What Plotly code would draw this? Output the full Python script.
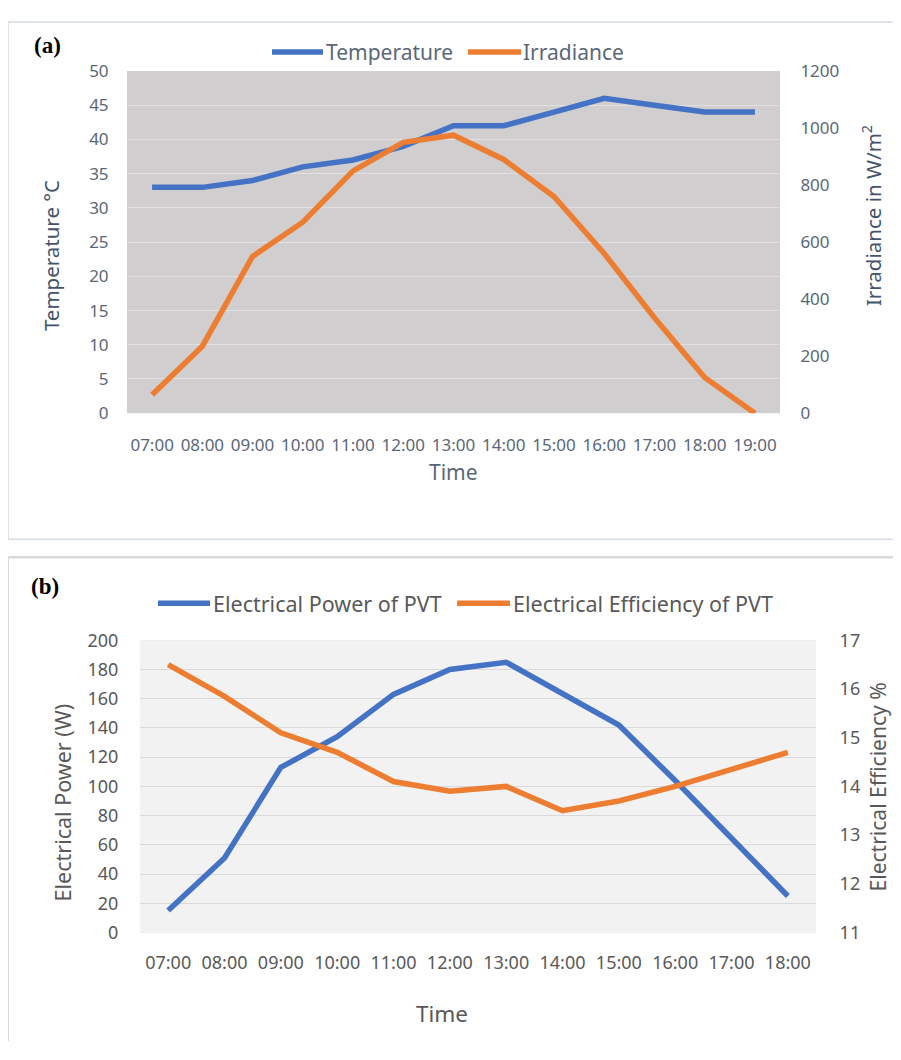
import plotly.graph_objects as go

# ---------------- data ----------------
times_a = ["07:00", "08:00", "09:00", "10:00", "11:00", "12:00", "13:00",
           "14:00", "15:00", "16:00", "17:00", "18:00", "19:00"]
temperature = [33, 33, 34, 36, 37, 39, 42, 42, 44, 46, 45, 44, 44]
irradiance = [65, 235, 550, 670, 850, 950, 975, 890, 760, 560, 335, 125, 0]

times_b = ["07:00", "08:00", "09:00", "10:00", "11:00", "12:00", "13:00",
           "14:00", "15:00", "16:00", "17:00", "18:00"]
power = [15, 51, 113, 134, 163, 180, 185, 164, 142, 104, 64, 25]
efficiency = [16.5, 15.85, 15.1, 14.7, 14.1, 13.9, 14.0, 13.5, 13.7, 14.0, 14.35, 14.7]

series_names_a = ["Temperature", "Irradiance"]
series_names_b = ["Electrical Power of PVT", "Electrical Efficiency of PVT"]

# ---------------- geometry (reference pixels -> paper) ----------------
OFFX, OFFY, SY = 8, 21, 0.9765
W, H = 885, 1044


def xf(px):
    return (px - OFFX) / W


def yf(py):
    return 1 - ((py - OFFY) / SY) / H


BLUE = "#4472C4"
ORANGE = "#ED7D31"
FONT = "Noto Sans, Open Sans, sans-serif"
GREY = "#595959"
SLATE = "#44546A"
SLATE_T = "#5A6779"
LW = 5.5

fig = go.Figure()

fig.add_trace(go.Scatter(x=times_a, y=temperature, name=series_names_a[0],
                         mode="lines", line=dict(color=BLUE, width=LW),
                         xaxis="x", yaxis="y"))
fig.add_trace(go.Scatter(x=times_a, y=irradiance, name=series_names_a[1],
                         mode="lines", line=dict(color=ORANGE, width=LW),
                         xaxis="x", yaxis="y2"))
fig.add_trace(go.Scatter(x=times_b, y=power, name=series_names_b[0],
                         mode="lines", line=dict(color=BLUE, width=LW),
                         xaxis="x2", yaxis="y3"))
fig.add_trace(go.Scatter(x=times_b, y=efficiency, name=series_names_b[1],
                         mode="lines", line=dict(color=ORANGE, width=LW),
                         xaxis="x2", yaxis="y4"))

tickfont_a = dict(family=FONT, size=17, color=SLATE_T)
tickfont_b = dict(family=FONT, size=18, color=GREY)

hidden_tick = dict(ticks="outside", tickcolor="rgba(0,0,0,0)")

fig.update_layout(
    width=W, height=H, autosize=False,
    margin=dict(l=0, r=0, t=0, b=0),
    paper_bgcolor="white",
    showlegend=False,
    # ---- panel (a) ----
    xaxis=dict(domain=[xf(127), xf(780)], anchor="y", type="category",
               range=[-0.5, 12.5], showgrid=False, zeroline=False,
               showline=False, tickangle=0, tickfont=tickfont_a,
               ticklen=16, **hidden_tick),
    yaxis=dict(domain=[yf(413), yf(71)], anchor="x", range=[0, 50],
               dtick=5, showgrid=True, gridcolor="#E2E0E0", gridwidth=1.3,
               zeroline=False, showline=False, tickfont=tickfont_a,
               ticklen=14, **hidden_tick),
    yaxis2=dict(overlaying="y", side="right", anchor="x", range=[0, 1200],
                dtick=200, showgrid=False, zeroline=False, showline=False,
                tickfont=tickfont_a, ticklen=16, **hidden_tick),
    plot_bgcolor="#D0CECE",
    # ---- panel (b) ----
    xaxis2=dict(domain=[xf(140), xf(816)], anchor="y3", type="category",
                range=[-0.5, 11.5], showgrid=False, zeroline=False,
                showline=False, tickangle=0, tickfont=tickfont_b,
                ticklen=14, **hidden_tick),
    yaxis3=dict(domain=[yf(932), yf(640)], anchor="x2", range=[0, 200],
                dtick=20, showgrid=True, gridcolor="#D9D9D9", gridwidth=1.3,
                zeroline=False, showline=False, tickfont=tickfont_b,
                ticklen=17, **hidden_tick),
    yaxis4=dict(overlaying="y3", side="right", anchor="x2", range=[11, 17],
                dtick=1, showgrid=False, zeroline=False, showline=False,
                tickfont=tickfont_b, ticklen=19, **hidden_tick),
)

shapes = []
# panel (b) plot background
shapes.append(dict(type="rect", xref="paper", yref="paper",
                   x0=xf(140), x1=xf(816), y0=yf(932), y1=yf(640),
                   fillcolor="#F2F2F2", line=dict(width=0), layer="below"))
# panel borders
top_a = min(yf(12), 0.999)
shapes.append(dict(type="line", xref="paper", yref="paper",
                   x0=xf(8), x1=1, y0=top_a, y1=top_a,
                   line=dict(color="#DEE3EA", width=2)))
shapes.append(dict(type="line", xref="paper", yref="paper",
                   x0=xf(8), x1=xf(8), y0=top_a, y1=yf(539),
                   line=dict(color="#DEE3EA", width=2)))
shapes.append(dict(type="line", xref="paper", yref="paper",
                   x0=xf(8), x1=1, y0=yf(539), y1=yf(539),
                   line=dict(color="#DEE3EA", width=2)))
shapes.append(dict(type="line", xref="paper", yref="paper",
                   x0=xf(8), x1=1, y0=yf(557), y1=yf(557),
                   line=dict(color="#D9D9D9", width=2.5)))
shapes.append(dict(type="line", xref="paper", yref="paper",
                   x0=xf(8), x1=xf(8), y0=yf(557), y1=0,
                   line=dict(color="#D9D9D9", width=2)))

# legend keys (Excel-style long line swatches)
legend_keys = [
    (272, 323, 52, BLUE), (468, 521, 52, ORANGE),
    (158, 210, 603, BLUE), (457, 510, 603, ORANGE),
]
for x0, x1, yy, col in legend_keys:
    shapes.append(dict(type="line", xref="paper", yref="paper",
                       x0=xf(x0), x1=xf(x1), y0=yf(yy), y1=yf(yy),
                       line=dict(color=col, width=LW)))
fig.update_layout(shapes=shapes)


def note(text, x, y, size, color, family=FONT, angle=0, xanchor="center"):
    return dict(text=text, x=xf(x), y=yf(y), xref="paper", yref="paper",
                xanchor=xanchor, yanchor="middle", showarrow=False,
                textangle=angle, font=dict(family=family, size=size, color=color))


ann = [
    note("<b>(a)</b>", 47, 45, 23, "black", family="Liberation Serif"),
    note("<b>(b)</b>", 45, 586, 23, "black", family="Liberation Serif"),
    note("Temperature °C", 51, 256, 20.5, SLATE, angle=-90),
    note("Irradiance in W/m<sup>2</sup>", 872, 216, 20.5, SLATE, angle=-90),
    note("Time", 453, 472, 21, SLATE_T),
    note("Electrical Power (W)", 62, 802, 21.5, GREY, angle=-90),
    note("Electrical Efficiency %", 878, 787, 21, GREY, angle=-90),
    note("Time", 442, 1013, 22.5, GREY),
    # legend labels
    note(series_names_a[0], 324, 52, 21, SLATE_T, xanchor="left"),
    note(series_names_a[1], 521, 52, 21, SLATE_T, xanchor="left"),
    note(series_names_b[0], 211, 603, 21.5, GREY, xanchor="left"),
    note(series_names_b[1], 511, 603, 21.5, GREY, xanchor="left"),
]
fig.update_layout(annotations=ann)

fig.write_html("out.html")
